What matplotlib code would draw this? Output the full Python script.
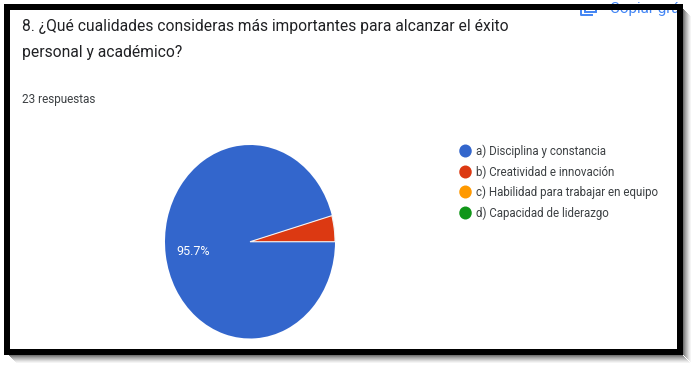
import matplotlib
matplotlib.use("Agg")
import matplotlib.pyplot as plt
from matplotlib.patches import Rectangle, Ellipse

plt.rcParams['font.family'] = ['Roboto', 'DejaVu Sans']

# the answers, 23 in total
labels = ['a) Disciplina y constancia', 'b) Creatividad e innovación',
          'c) Habilidad para trabajar en equipo', 'd) Capacidad de liderazgo']
counts = [22, 1, 0, 0]
colors = ['#3366cc', '#dc3912', '#ff9900', '#109618']
title_lines = ['8. ¿Qué cualidades consideras más importantes para alcanzar el éxito',
               'personal y académico?']
subtitle = '23 respuestas'
copy_text = 'Copiar grá'

W, H = 696, 368
fig = plt.figure(figsize=(W / 100, H / 100), dpi=100, facecolor='white')

# whole figure as a pixel canvas for frame and text
bg = fig.add_axes([0, 0, 1, 1])
bg.set_xlim(0, W)
bg.set_ylim(H, 0)
bg.axis('off')

# pie has its own axes, the screenshot stretched it vertically
left, right, top, bottom = 165, 335, 145, 338.5
pie_ax = fig.add_axes([left / W, 1 - bottom / H, (right - left) / W, (bottom - top) / H])
# red has to sit just above 3 o'clock
start = 360 * counts[1] / sum(counts)
wedges, _ = pie_ax.pie(counts, colors=colors, startangle=start, radius=1,
                       wedgeprops={'edgecolor': 'none'})
wedges[1].set_edgecolor('#f3f3f3')
wedges[1].set_linewidth(0.8)
pie_ax.set_aspect('auto')
pie_ax.set_xlim(-1, 1)
pie_ax.set_ylim(-1, 1)
share = 100 * counts[0] / sum(counts)
bg.text(193, 251.5, f'{share:.1f}%', color='white', fontsize=9, ha='center', va='center', zorder=5)
bg.set_zorder(pie_ax.get_zorder() + 1)
bg.patch.set_visible(False)

# texts
title_y = [27, 53]
for line, y in zip(title_lines, title_y):
    bg.text(22, y, line, fontsize=11.25, color='#202124', va='center', ha='left')
bg.text(22, 100, subtitle, fontsize=8.5, color='#3c4043', va='center', ha='left')

# legend
legend_y = [151, 172, 192, 213]
for lab, col, y in zip(labels, colors, legend_y):
    bg.add_patch(Ellipse((465.5, y), 12.5, 13, color=col, lw=0))
    bg.text(476, y, lab, fontsize=8.3, color='#3c4043', va='center', ha='left')

# copy button, only its lower part shows under the frame
inner = Rectangle((9.5, 10), 667.5, 339, transform=bg.transData)
copy_label = bg.text(610, 12.5, copy_text, fontsize=11, color='#4285f4', va='baseline', ha='left', zorder=2)
copy_label.set_clip_path(inner)
bg.add_patch(Rectangle((585, 6), 11, 6, fill=False, ec='#4285f4', lw=1.4, zorder=2))
bg.plot([581, 581, 592], [8, 14.5, 14.5], color='#4285f4', lw=1.4, zorder=2)

# shadow
fade = [0.75, 0.62, 0.5, 0.4, 0.3, 0.2, 0.12, 0.06]
for i, a in enumerate(fade):
    bg.add_patch(Rectangle((683 + i, 9 + i), 1, 345.5, color='#444444', alpha=a, lw=0, zorder=3))
    bg.add_patch(Rectangle((9 + i, 354.5 + i), 674, 1, color='#444444', alpha=a, lw=0, zorder=3))

# black frame
bg.add_patch(Rectangle((3.5, 4), 679.5, 6, color='black', lw=0, zorder=4))
bg.add_patch(Rectangle((3.5, 349), 679.5, 5.5, color='black', lw=0, zorder=4))
bg.add_patch(Rectangle((3.5, 4), 6, 350.5, color='black', lw=0, zorder=4))
bg.add_patch(Rectangle((677, 4), 6, 350.5, color='black', lw=0, zorder=4))

fig.savefig('out.png', dpi=100)
